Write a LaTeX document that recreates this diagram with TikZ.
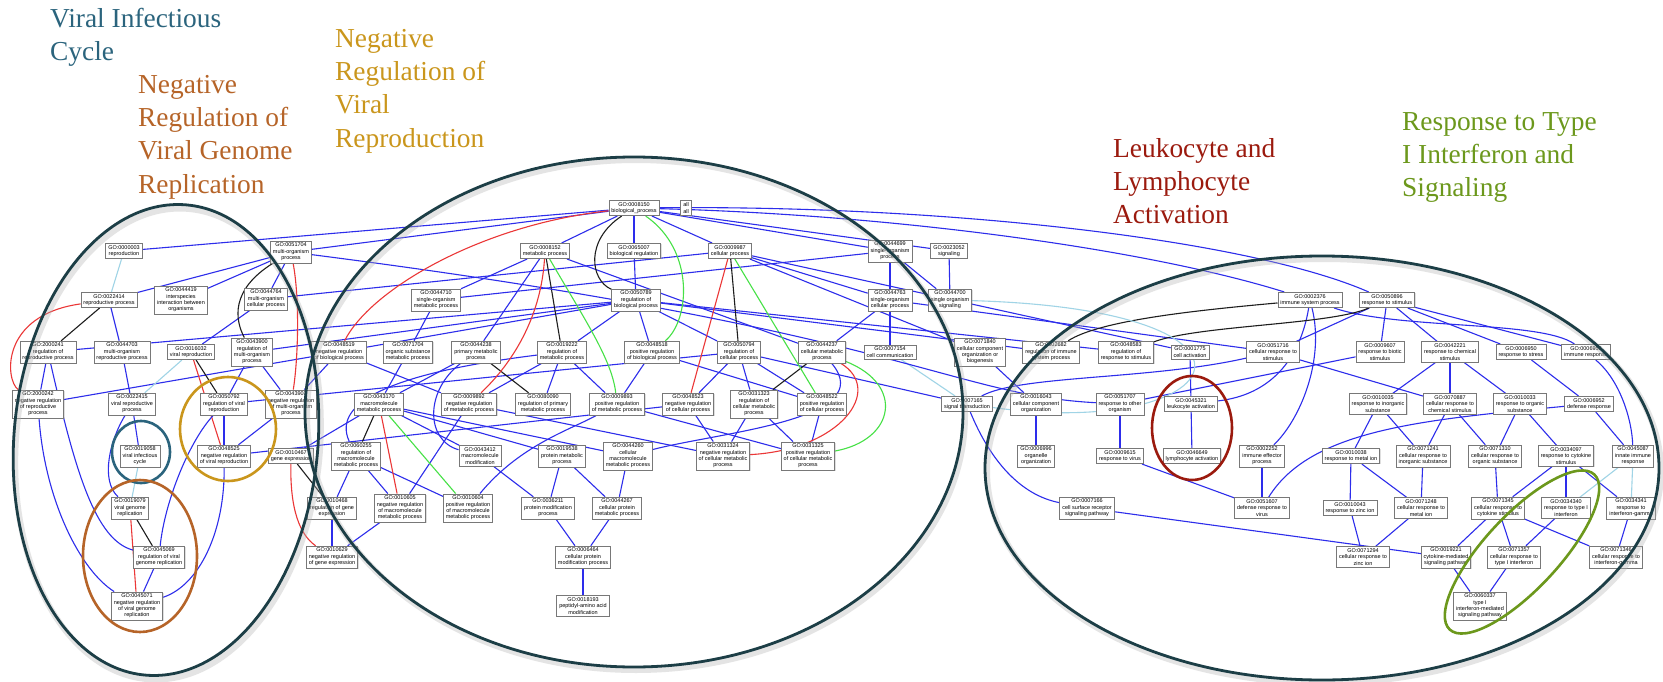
\documentclass[tikz,border=0pt]{standalone}
\usepackage{fontspec}
\setmainfont{Liberation Serif}
\newfontfamily\boxfont{Liberation Sans}
\usetikzlibrary{shadows}
\pgfdeclarelayer{bg}
\pgfdeclarelayer{edges}
\pgfsetlayers{bg,edges,main}
\definecolor{eblue}{RGB}{45,45,235}
\definecolor{ered}{RGB}{235,55,55}
\definecolor{egreen}{RGB}{70,225,70}
\definecolor{eblack}{RGB}{30,30,30}
\definecolor{elight}{RGB}{160,212,230}
\definecolor{boxgray}{RGB}{120,120,120}
\definecolor{bigring}{RGB}{28,62,70}
\definecolor{cteal}{RGB}{43,100,125}
\definecolor{cbrown}{RGB}{182,100,40}
\definecolor{cgold}{RGB}{202,150,28}
\definecolor{cred}{RGB}{155,26,14}
\definecolor{cgreen}{RGB}{108,152,28}
\begin{document}
\begin{tikzpicture}[x=1pt,y=-1pt,
  box/.style={draw=boxgray, line width=0.7pt, fill=white, align=center,
    font=\boxfont\fontsize{5.5}{6.4}\selectfont, inner xsep=2.5pt, inner ysep=2pt,
    drop shadow={shadow xshift=0.8pt, shadow yshift=-0.8pt, opacity=0.25}},
  eb/.style={draw=eblue, line width=1.1pt},
  ek/.style={draw=eblack, line width=1.1pt},
  er/.style={draw=ered, line width=1.1pt},
  eg/.style={draw=egreen, line width=1.1pt},
  el/.style={draw=elight, line width=1.1pt},
  title/.style={font=\fontsize{27.4}{33.3}\selectfont, align=left, anchor=north west, inner sep=0pt},
  ring/.style={draw=bigring, line width=2.8pt},
  glow/.style={draw=black!30, line width=6pt, opacity=0.35},
  cring/.style={line width=2.6pt}]
\useasboundingbox (0,0) rectangle (1663,682);
\begin{pgfonlayer}{bg}
\fill[white] (0,0) rectangle (1663,682);
\end{pgfonlayer}

% ---------------- titles
\node[title, text=cteal] (tviral) at (50,8) {Viral Infectious\\Cycle};
\node[title, text=cbrown] (tgenome) at (138,75) {Negative\\Regulation of\\Viral Genome\\Replication};
\node[title, text=cgold] (trepro) at (335,29) {Negative\\Regulation of\\Viral\\Reproduction};
\node[title, text=cred] (tleuk) at (1113,138) {Leukocyte and\\Lymphocyte\\Activation};
\node[title, text=cgreen] (tifn) at (1402,112) {Response to Type\\I Interferon and\\Signaling};

% ---------------- left nodes
\node[box] (n0000003) at (124,251) {GO:0000003\\reproduction};
\node[box] (n0051704) at (291,252) {GO:0051704\\multi-organism\\process};
\node[box] (n0022414) at (109,300) {GO:0022414\\reproductive process};
\node[box] (n0044419) at (181,300) {GO:0044419\\interspecies\\interaction between\\organisms};
\node[box] (n0044764) at (266,299) {GO:0044764\\multi-organism\\cellular process};
\node[box] (n2000241) at (48,352) {GO:2000241\\regulation of\\reproductive process};
\node[box] (n0044703) at (122,352) {GO:0044703\\multi-organism\\reproductive process};
\node[box] (n0016032) at (191,352) {GO:0016032\\viral reproduction};
\node[box] (n0043900) at (252,352) {GO:0043900\\regulation of\\multi-organism\\process};
\node[box] (n2000242) at (38,404) {GO:2000242\\negative regulation\\of reproductive\\process};
\node[box] (n0022415) at (132,404) {GO:0022415\\viral reproductive\\process};
\node[box] (n0050792) at (224,404) {GO:0050792\\regulation of viral\\reproduction};
\node[box] (n0043901) at (291,404) {GO:0043901\\negative regulation\\of multi-organism\\process};
\node[box] (n0019058) at (140,456) {GO:0019058\\viral infectious\\cycle};
\node[box] (n0048525) at (224,456) {GO:0048525\\negative regulation\\of viral reproduction};
\node[box] (n0010467) at (291,456) {GO:0010467\\gene expression};
\node[box] (n0019079) at (130,508) {GO:0019079\\viral genome\\replication};
\node[box] (n0045069) at (159,557) {GO:0045069\\regulation of viral\\genome replication};
\node[box] (n0045071) at (137,606) {GO:0045071\\negative regulation\\of viral genome\\replication};

% ---------------- middle nodes
\node[box] (n0008150) at (634,208) {GO:0008150\\biological\_process};
\node[box] (nall) at (686,208) {all\\all};
\node[box] (n0008152) at (545,251) {GO:0008152\\metabolic process};
\node[box] (n0065007) at (634,251) {GO:0065007\\biological regulation};
\node[box] (n0009987) at (730,251) {GO:0009987\\cellular process};
\node[box] (n0044699) at (890,251) {GO:0044699\\single-organism\\process};
\node[box] (n0023052) at (949,251) {GO:0023052\\signaling};
\node[box] (n0044710) at (436,300) {GO:0044710\\single-organism\\metabolic process};
\node[box] (n0050789) at (636,300) {GO:0050789\\regulation of\\biological process};
\node[box] (n0044763) at (890,300) {GO:0044763\\single-organism\\cellular process};
\node[box] (n0044700) at (950,300) {GO:0044700\\single organism\\signaling};
\node[box] (n0048519) at (339,352) {GO:0048519\\negative regulation\\of biological process};
\node[box] (n0071704) at (408,352) {GO:0071704\\organic substance\\metabolic process};
\node[box] (n0044238) at (476,352) {GO:0044238\\primary metabolic\\process};
\node[box] (n0019222) at (562,352) {GO:0019222\\regulation of\\metabolic process};
\node[box] (n0048518) at (652,352) {GO:0048518\\positive regulation\\of biological process};
\node[box] (n0050794) at (739,352) {GO:0050794\\regulation of\\cellular process};
\node[box] (n0044237) at (822,352) {GO:0044237\\cellular metabolic\\process};
\node[box] (n0007154) at (890,352) {GO:0007154\\cell communication};
\node[box] (n0043170) at (379,404) {GO:0043170\\macromolecule\\metabolic process};
\node[box] (n0009892) at (469,404) {GO:0009892\\negative regulation\\of metabolic process};
\node[box] (n0080090) at (543,404) {GO:0080090\\regulation of primary\\metabolic process};
\node[box] (n0009893) at (617,404) {GO:0009893\\positive regulation\\of metabolic process};
\node[box] (n0048523) at (688,404) {GO:0048523\\negative regulation\\of cellular process};
\node[box] (n0031323) at (754,404) {GO:0031323\\regulation of\\cellular metabolic\\process};
\node[box] (n0048522) at (822,404) {GO:0048522\\positive regulation\\of cellular process};
\node[box] (n0060255) at (356,456) {GO:0060255\\regulation of\\macromolecule\\metabolic process};
\node[box] (n0043412) at (480,456) {GO:0043412\\macromolecule\\modification};
\node[box] (n0019538) at (562,456) {GO:0019538\\protein metabolic\\process};
\node[box] (n0044260) at (628,456) {GO:0044260\\cellular\\macromolecule\\metabolic process};
\node[box] (n0031324) at (723,456) {GO:0031324\\negative regulation\\of cellular metabolic\\process};
\node[box] (n0031325) at (808,456) {GO:0031325\\positive regulation\\of cellular metabolic\\process};
\node[box] (n0010468) at (332,508) {GO:0010468\\regulation of gene\\expression};
\node[box] (n0010605) at (400,508) {GO:0010605\\negative regulation\\of macromolecule\\metabolic process};
\node[box] (n0010604) at (468,508) {GO:0010604\\positive regulation\\of macromolecule\\metabolic process};
\node[box] (n0036211) at (548,508) {GO:0036211\\protein modification\\process};
\node[box] (n0044267) at (617,508) {GO:0044267\\cellular protein\\metabolic process};
\node[box] (n0010629) at (332,557) {GO:0010629\\negative regulation\\of gene expression};
\node[box] (n0006464) at (583,557) {GO:0006464\\cellular protein\\modification process};
\node[box] (n0018193) at (583,606) {GO:0018193\\peptidyl-amino acid\\modification};

% ---------------- right nodes
\node[box] (n0002376) at (1310,300) {GO:0002376\\immune system process};
\node[box] (n0050896) at (1387,300) {GO:0050896\\response to stimulus};
\node[box] (n0071840) at (980,352) {GO:0071840\\cellular component\\organization or\\biogenesis};
\node[box] (n0002682) at (1051,352) {GO:0002682\\regulation of immune\\system process};
\node[box] (n0048583) at (1126,352) {GO:0048583\\regulation of\\response to stimulus};
\node[box] (n0001775) at (1190,352) {GO:0001775\\cell activation};
\node[box] (n0051716) at (1273,352) {GO:0051716\\cellular response to\\stimulus};
\node[box] (n0009607) at (1380,352) {GO:0009607\\response to biotic\\stimulus};
\node[box] (n0042221) at (1450,352) {GO:0042221\\response to chemical\\stimulus};
\node[box] (n0006950) at (1521,352) {GO:0006950\\response to stress};
\node[box] (n0006955) at (1586,352) {GO:0006955\\immune response};
\node[box] (n0007165) at (967,404) {GO:0007165\\signal transduction};
\node[box] (n0016043) at (1036,404) {GO:0016043\\cellular component\\organization};
\node[box] (n0051707) at (1120,404) {GO:0051707\\response to other\\organism};
\node[box] (n0045321) at (1191,404) {GO:0045321\\leukocyte activation};
\node[box] (n0010035) at (1378,404) {GO:0010035\\response to inorganic\\substance};
\node[box] (n0070887) at (1450,404) {GO:0070887\\cellular response to\\chemical stimulus};
\node[box] (n0010033) at (1520,404) {GO:0010033\\response to organic\\substance};
\node[box] (n0006952) at (1589,404) {GO:0006952\\defense response};
\node[box] (n0006996) at (1036,456) {GO:0006996\\organelle\\organization};
\node[box] (n0009615) at (1120,456) {GO:0009615\\response to virus};
\node[box] (n0046649) at (1192,456) {GO:0046649\\lymphocyte activation};
\node[box] (n0002252) at (1262,456) {GO:0002252\\immune effector\\process};
\node[box] (n0010038) at (1351,456) {GO:0010038\\response to metal ion};
\node[box] (n0071241) at (1423,456) {GO:0071241\\cellular response to\\inorganic substance};
\node[box] (n0071310) at (1495,456) {GO:0071310\\cellular response to\\organic substance};
\node[box] (n0034097) at (1566,456) {GO:0034097\\response to cytokine\\stimulus};
\node[box] (n0045087) at (1633,456) {GO:0045087\\innate immune\\response};
\node[box] (n0007166) at (1087,508) {GO:0007166\\cell surface receptor\\signaling pathway};
\node[box] (n0051607) at (1262,508) {GO:0051607\\defense response to\\virus};
\node[box] (n0010043) at (1350,508) {GO:0010043\\response to zinc ion};
\node[box] (n0071248) at (1421,508) {GO:0071248\\cellular response to\\metal ion};
\node[box] (n0071345) at (1498,508) {GO:0071345\\cellular response to\\cytokine stimulus};
\node[box] (n0034340) at (1566,508) {GO:0034340\\response to type I\\interferon};
\node[box] (n0034341) at (1631,508) {GO:0034341\\response to\\interferon-gamma};
\node[box] (n0071294) at (1363,557) {GO:0071294\\cellular response to\\zinc ion};
\node[box] (n0019221) at (1446,557) {GO:0019221\\cytokine-mediated\\signaling pathway};
\node[box] (n0071357) at (1514,557) {GO:0071357\\cellular response to\\type I interferon};
\node[box] (n0071346) at (1616,557) {GO:0071346\\cellular response to\\interferon-gamma};
\node[box] (n0060337) at (1480,606) {GO:0060337\\type I\\interferon-mediated\\signaling pathway};

% ---------------- edges
\begin{pgfonlayer}{edges}
\foreach \a/\b in {0008150/0000003, 0008150/0051704, 0008150/0008152, 0008150/0065007, 0008150/0009987, 0008150/0044699, 0008150/0023052,
  0051704/0022414, 0051704/0044419, 0051704/0044764, 0044764/0009987,
  0022414/0044703, 0050789/2000241, 0050789/0043900, 0050789/0048519, 0050789/0019222, 0050789/0048518, 0050789/0050794, 0050789/0002682, 0050789/0048583, 0065007/0050789,
  0016032/0044764, 0043900/0050792, 0043900/0043901, 2000241/2000242, 0044703/0022415,
  0048519/2000242, 0048519/0043901, 0048519/0009892, 0022415/0019058, 0050792/0048525, 0043901/0048525, 0048523/0048525, 0050794/0050792, 0045069/0045071, 0043170/0010467,
  0008152/0044710, 0008152/0044238, 0008152/0044237, 0044699/0044710, 0044710/0071704, 0071704/0043170, 0044238/0043170, 0019222/0009892, 0019222/0080090, 0019222/0009893,
  0009987/0044763, 0009987/0001775, 0009987/0071840, 0048518/0009893, 0048518/0048522, 0044763/0044237, 0044763/0007154, 0044763/0051716, 0044699/0044763, 0044699/0044700,
  0050794/0048523, 0050794/0031323, 0050794/0048522, 0050794/0007165, 0048523/0031324, 0031323/0031324, 0031323/0031325, 0048522/0031325, 0009893/0031325, 0009892/0031324,
  0043170/0043412, 0043170/0019538, 0043170/0044260, 0060255/0010468, 0060255/0010605, 0060255/0010604, 0009892/0010605, 0043412/0036211, 0019538/0036211, 0019538/0044267,
  0044260/0044267, 0010468/0010629, 0010605/0010629, 0036211/0006464, 0044267/0006464, 0006464/0018193,
  0023052/0044700, 0071840/0016043, 0016043/0006996, 0009607/0051707, 0051707/0009615, 0001775/0045321, 0045321/0046649, 0009615/0051607, 0002252/0051607, 0007166/0019221,
  0050896/0009607, 0050896/0042221, 0050896/0006950, 0050896/0006955, 0050896/0051716, 0051716/0070887, 0042221/0010035, 0042221/0070887, 0042221/0010033, 0006950/0006952, 0006952/0045087,
  0010035/0010038, 0010035/0071241, 0070887/0071241, 0070887/0071310, 0010033/0071310, 0010033/0034097, 0010038/0010043, 0010038/0071248, 0071241/0071248, 0010043/0071294, 0071248/0071294,
  0071310/0071345, 0034097/0071345, 0034097/0034340, 0034097/0034341, 0071345/0019221, 0071345/0071357, 0071345/0071346, 0034340/0071357, 0034341/0071346, 0019221/0060337, 0071357/0060337}
  \draw[eb] (n\a) -- (n\b);
\foreach \a/\b in {0022414/2000241, 0016032/0050792, 0019079/0045069, 0010467/0010468, 0008152/0019222, 0044238/0080090, 0009987/0050794, 0044237/0031323, 0043170/0060255}
  \draw[ek] (n\a) -- (n\b);
\foreach \a/\b in {0016032/0048525, 0019079/0045071, 0009987/0048523, 0043170/0010605}
  \draw[er] (n\a) -- (n\b);
\foreach \a/\b in {0009987/0048522, 0043170/0010604}
  \draw[eg] (n\a) -- (n\b);
\foreach \a/\b in {0000003/0022414, 0016032/0022415, 0019058/0019079, 0007154/0007165, 0045087/0034340, 0045087/0034341}
  \draw[el] (n\a) -- (n\b);
% curved blue
\draw[eb] (n0008150) .. controls (900,215) and (1150,250) .. (n0002376);
\draw[eb] (n0008150) .. controls (950,205) and (1250,240) .. (n0050896);
\draw[eb] (n2000241) .. controls (75,470) and (95,540) .. (n0045069);
\draw[eb] (n2000242) .. controls (45,500) and (80,570) .. (n0045071);
\draw[eb] (n0022415) .. controls (110,440) and (100,480) .. (n0019079);
\draw[eb] (n0050792) .. controls (190,440) and (165,500) .. (n0045069);
\draw[eb] (n0048525) .. controls (225,530) and (200,585) .. (n0045071);
\draw[eb] (n0044238) .. controls (425,390) and (425,440) .. (n0043412);
\draw[eb] (n0019222) .. controls (400,372) and (330,400) .. (n0060255);
\draw[eb] (n0009893) .. controls (570,430) and (520,445) .. (n0010604);
\draw[eb] (n0044237) .. controls (880,420) and (720,432) .. (n0044260);
\draw[eb] (n0051704) .. controls (900,330) and (950,395) .. (n0051707);
\draw[eb] (n0051716) .. controls (1150,380) and (1020,375) .. (n0007165);
\draw[eb] (n0007165) .. controls (990,460) and (1020,495) .. (n0007166);
\draw[eb] (n0002376) .. controls (1300,360) and (1270,395) .. (n0045321);
\draw[eb] (n0002376) .. controls (1325,360) and (1300,420) .. (n0002252);
\draw[eb] (n0006952) .. controls (1420,420) and (1310,430) .. (n0051607);
\draw[eb] (n0002376) .. controls (1400,330) and (1540,320) .. (n0006955);
\draw[eb] (n0006955) .. controls (1620,380) and (1632,420) .. (n0045087);
% curved black
\draw[ek] (n0051704) .. controls (230,290) and (235,320) .. (n0043900);
\draw[ek] (n0008150) .. controls (585,240) and (590,280) .. (n0050789);
\draw[ek] (n0050896) .. controls (1330,325) and (1200,325) .. (n0048583);
\draw[ek] (n0002376) .. controls (1200,310) and (1100,320) .. (n0002682);
% curved red
\draw[er] (n0051704) .. controls (300,300) and (298,360) .. (n0043901);
\draw[er] (n0022414) .. controls (0,315) and (5,380) .. (n2000242);
\draw[er] (n0010467) .. controls (290,510) and (300,535) .. (n0010629);
\draw[er] (n0008150) .. controls (480,225) and (370,290) .. (n0048519);
\draw[er] (n0008152) .. controls (540,330) and (500,375) .. (n0009892);
\draw[er] (n0044237) .. controls (885,390) and (840,450) .. (n0031324);
% curved green
\draw[eg] (n0008152) .. controls (585,320) and (612,360) .. (n0009893);
\draw[eg] (n0008150) .. controls (695,250) and (690,320) .. (n0048518);
\draw[eg] (n0044237) .. controls (905,385) and (895,440) .. (n0031325);
% curved light blue
\draw[el] (n0044700) .. controls (1300,310) and (1230,440) .. (n0007165);
\end{pgfonlayer}

% ---------------- group ellipses
\draw[glow, rotate around={-5:(168,444)}] (168,444) ellipse [x radius=152pt, y radius=236pt];
\draw[glow] (636,415) ellipse [x radius=329pt, y radius=255pt];
\draw[glow] (1324,471) ellipse [x radius=337pt, y radius=212pt];
\draw[ring, rotate around={-5:(166,440)}] (166,440) ellipse [x radius=152pt, y radius=236pt];
\draw[ring] (634,412) ellipse [x radius=329pt, y radius=255pt];
\draw[ring] (1322,468) ellipse [x radius=337pt, y radius=212pt];
\draw[cring, draw=cteal] (141,452) ellipse [x radius=29pt, y radius=31pt];
\draw[cring, draw=cgold] (228,429) ellipse [x radius=48pt, y radius=52pt];
\draw[cring, draw=cbrown] (140,556) ellipse [x radius=57pt, y radius=76pt];
\draw[cring, draw=cred] (1192,428) ellipse [x radius=40pt, y radius=52pt];
\draw[cring, draw=cgreen, rotate around={47:(1522,552)}] (1522,552) ellipse [x radius=106pt, y radius=37pt];
\end{tikzpicture}
\end{document}
